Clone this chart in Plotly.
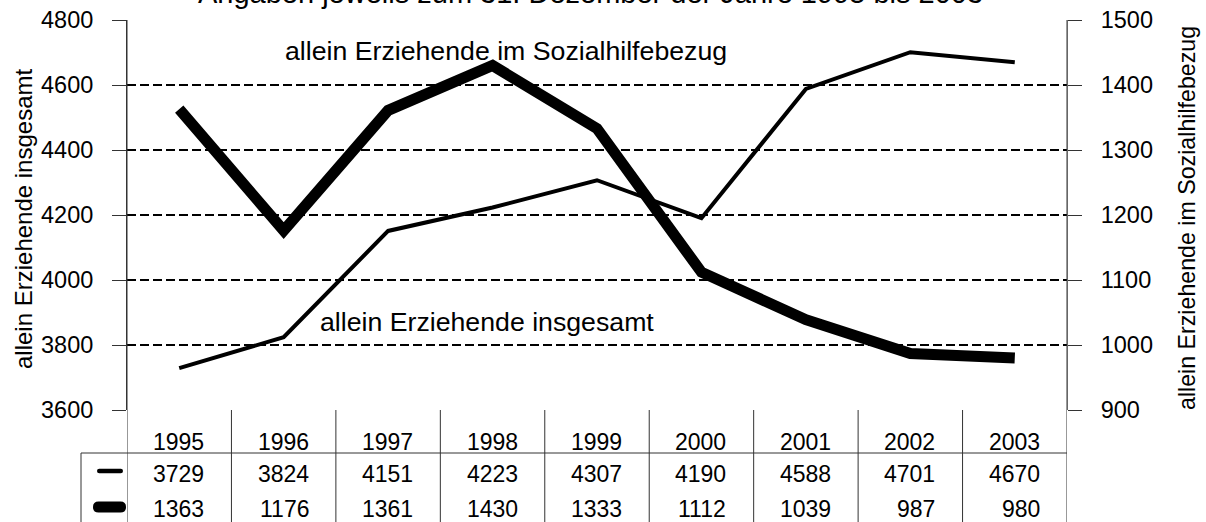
import plotly.graph_objects as go

years = ["1995", "1996", "1997", "1998", "1999", "2000", "2001", "2002", "2003"]
insgesamt = [3729, 3824, 4151, 4223, 4307, 4190, 4588, 4701, 4670]
sozialhilfe = [1363, 1176, 1361, 1430, 1333, 1112, 1039, 987, 980]

left_ticks = [3600, 3800, 4000, 4200, 4400, 4600, 4800]
right_ticks = [900, 1000, 1100, 1200, 1300, 1400, 1500]

title_text = "Angaben jeweils zum 31. Dezember der Jahre 1995 bis 2003"
label_total = "allein Erziehende insgesamt"
label_social = "allein Erziehende im Sozialhilfebezug"

W, H = 1206, 522
PL, PT, PW, PH = 127, 20, 940, 390          # plot area in page pixels
L, T = PL, PT
R, B = W - L - PW, H - T - PH
FONT = "Liberation Sans, Arial, sans-serif"
LINEC = "#333333"


def px(x):
    return (x - PL) / PW


def py(y):
    return (PT + PH - y) / PH


xs = list(range(len(years)))

fig = go.Figure()
fig.add_trace(go.Scatter(x=xs, y=insgesamt, mode="lines",
                         line=dict(color="black", width=4), yaxis="y", showlegend=False))
fig.add_trace(go.Scatter(x=xs, y=sozialhilfe, mode="lines",
                         line=dict(color="black", width=11), yaxis="y2", showlegend=False))

shapes = []
annotations = []

# table vertical lines (column boundaries)
for i in range(len(years) + 1):
    shapes.append(dict(type="line", xref="x", yref="paper", x0=i - 0.5, x1=i - 0.5,
                       y0=1.0 if i in (0, len(years)) else 0, y1=py(530),
                       line=dict(color=LINEC, width=1)))
# horizontal line under years
shapes.append(dict(type="line", xref="paper", yref="paper", x0=px(81), x1=1,
                   y0=py(453), y1=py(453), line=dict(color=LINEC, width=1)))
# left border of table rows
shapes.append(dict(type="line", xref="paper", yref="paper", x0=px(81), x1=px(81),
                   y0=py(453), y1=py(530), line=dict(color=LINEC, width=1)))


def capsule(cx, cy, length, thick):
    r = thick / 2
    a = length / 2 - r
    path = (f"M {-a},{-r} L {a},{-r} Q {a + r},{-r} {a + r},0 Q {a + r},{r} {a},{r} "
            f"L {-a},{r} Q {-a - r},{r} {-a - r},0 Q {-a - r},{-r} {-a},{-r} Z")
    return dict(type="path", xref="paper", yref="paper", xsizemode="pixel", ysizemode="pixel",
                xanchor=px(cx), yanchor=py(cy), path=path, fillcolor="black",
                line=dict(width=0))


shapes.append(capsule(110, 471, 26, 4.5))
shapes.append(capsule(109.5, 507, 33, 11))

NUMF = dict(family=FONT, size=23, color="black")
for i, y in enumerate(years):
    annotations.append(dict(x=i, y=py(442), xref="x", yref="paper", text=y, showarrow=False,
                            xanchor="right", xshift=27, yanchor="middle", font=NUMF))
    annotations.append(dict(x=i, y=py(474), xref="x", yref="paper", text=str(insgesamt[i]),
                            showarrow=False, xanchor="right", xshift=27, yanchor="middle", font=NUMF))
    annotations.append(dict(x=i, y=py(509), xref="x", yref="paper", text=str(sozialhilfe[i]),
                            showarrow=False, xanchor="right", xshift=27, yanchor="middle", font=NUMF))

annotations.append(dict(x=px(590), y=py(-7), xref="paper", yref="paper", text=title_text,
                        showarrow=False, xanchor="center", yanchor="middle",
                        font=dict(family=FONT, size=29, color="black")))
annotations.append(dict(x=px(283), y=py(51), xref="paper", yref="paper", text=label_social,
                        showarrow=False, xanchor="left", yanchor="middle",
                        font=dict(family=FONT, size=26.7, color="black")))
annotations.append(dict(x=px(318), y=py(322), xref="paper", yref="paper", text=label_total,
                        showarrow=False, xanchor="left", yanchor="middle",
                        font=dict(family=FONT, size=26.7, color="black")))
annotations.append(dict(x=px(23), y=py(219), xref="paper", yref="paper", text=label_total,
                        showarrow=False, textangle=-90, xanchor="center", yanchor="middle",
                        font=dict(family=FONT, size=24, color="black")))
annotations.append(dict(x=px(1187), y=py(218), xref="paper", yref="paper", text=label_social,
                        showarrow=False, textangle=-90, xanchor="center", yanchor="middle",
                        font=dict(family=FONT, size=23.2, color="black")))

fig.update_layout(
    width=W, height=H,
    margin=dict(l=L, r=R, t=T, b=B, pad=0, autoexpand=False),
    paper_bgcolor="white", plot_bgcolor="white",
    font=dict(family=FONT, size=23, color="black"),
    hovermode=False,
    xaxis=dict(range=[-0.5, len(years) - 0.5], showgrid=False, zeroline=False,
               showticklabels=False, showline=False, ticks="", automargin=False),
    yaxis=dict(range=[left_ticks[0], left_ticks[-1] + 0.01], tickvals=left_ticks,
               showgrid=True, gridcolor="black", gridwidth=1.2, griddash="9px,4px",
               zeroline=False, showline=True, linecolor=LINEC, linewidth=1,
               ticks="outside", ticklen=14, tickcolor=LINEC, tickwidth=1,
               ticklabelstandoff=14, ticklabeloverflow="allow", automargin=False,
               tickfont=dict(family=FONT, size=23.5)),
    yaxis2=dict(range=[right_ticks[0], right_ticks[-1] + 0.005], tickvals=right_ticks,
                overlaying="y", side="right", showgrid=False, zeroline=False,
                showline=True, linecolor="#666666", linewidth=1,
                ticks="outside", ticklen=14, tickcolor=LINEC, tickwidth=1,
                ticklabelstandoff=14, ticklabeloverflow="allow", automargin=False,
                tickfont=dict(family=FONT, size=23.5)),
    shapes=shapes,
    annotations=annotations,
    showlegend=False,
)

# remove the browser's default 8px body margin so the figure fills the window
fig.write_html("out.html", config={"displayModeBar": False, "staticPlot": True},
               post_script="document.body.style.margin='0';document.body.style.overflow='hidden';")
